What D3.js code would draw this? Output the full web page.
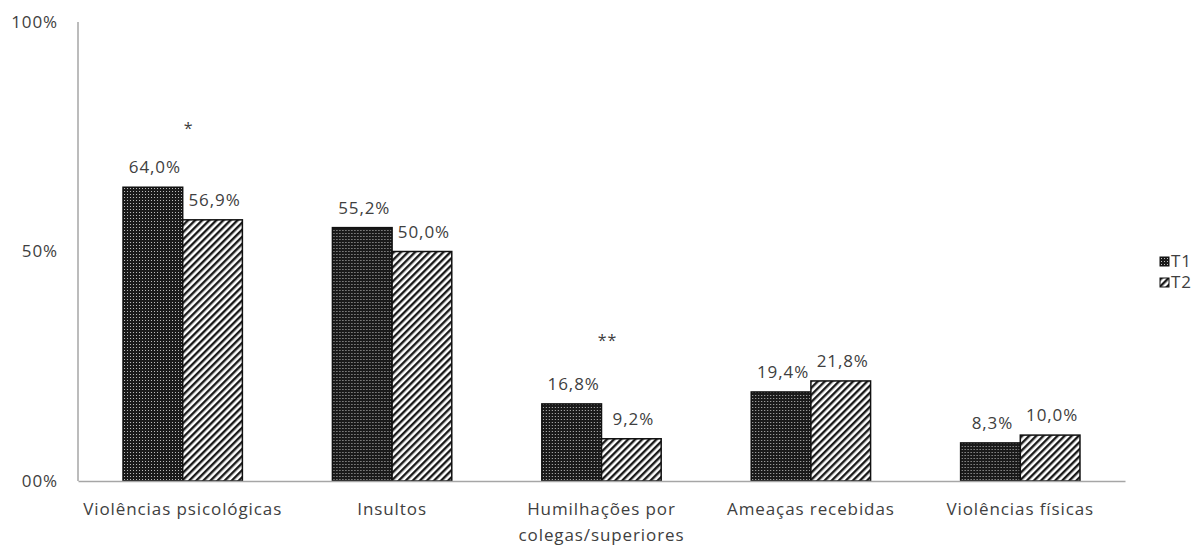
<!DOCTYPE html>
<html>
<head>
<meta charset="utf-8">
<script src="https://cdn.jsdelivr.net/npm/d3@7"></script>
<style>
  body { margin: 0; background: #fff; }
  text { font-family: "Open Sans", "DejaVu Sans", sans-serif; fill: #404040; letter-spacing: 0.9px; }
</style>
</head>
<body>
<svg id="chart" width="1200" height="545"></svg>
<script>
const categories = ["Violências psicológicas", "Insultos", "Humilhações por colegas/superiores", "Ameaças recebidas", "Violências físicas"];
const seriesNames = ["T1", "T2"];
const t1Values = [64.0, 55.2, 16.8, 19.4, 8.3];
const t2Values = [56.9, 50.0, 9.2, 21.8, 10.0];
const yTicks = [0, 50, 100];
const yTickLabels = ["00%", "50%", "100%"];
// significance markers: category, marker, height (in %)
const markers = [
  { cat: "Violências psicológicas", mark: "*", at: 75.5 },
  { cat: "Humilhações por colegas/superiores", mark: "**", at: 29.5 }
];

const margin = { left: 78, right: 75, top: 22, bottom: 64 };
const svg = d3.select("#chart");
const width = 1200 - margin.left - margin.right;
const height = 545 - margin.top - margin.bottom;
const fontSize = "17px";

const defs = svg.append("defs");
const dots = defs.append("pattern")
  .attr("id", "dots").attr("patternUnits", "userSpaceOnUse")
  .attr("width", 3).attr("height", 3);
dots.append("rect").attr("width", 3).attr("height", 3).attr("fill", "#1a1a1a");
dots.append("rect").attr("x", 1).attr("y", 1).attr("width", 1).attr("height", 1).attr("fill", "#bdbdbd");

const stripes = defs.append("pattern")
  .attr("id", "stripes").attr("patternUnits", "userSpaceOnUse")
  .attr("width", 5).attr("height", 5)
  .attr("patternTransform", "rotate(45)");
stripes.append("rect").attr("width", 5).attr("height", 5).attr("fill", "#ffffff");
stripes.append("rect").attr("width", 2.4).attr("height", 5).attr("fill", "#1a1a1a");

const fills = { T1: "url(#dots)", T2: "url(#stripes)" };

const g = svg.append("g").attr("transform", `translate(${margin.left},${margin.top})`);

const x = d3.scaleBand().domain(categories).range([0, width]).paddingInner(0.43).paddingOuter(0.215);
const x1 = d3.scaleBand().domain(seriesNames).range([0, x.bandwidth()]);
const y = d3.scaleLinear().domain([0, 100]).range([height, 0]);

const data = categories.map((c, i) => ({ cat: c, values: [
  { key: "T1", v: t1Values[i] }, { key: "T2", v: t2Values[i] }] }));

// axes lines
g.append("line").attr("x1", 0).attr("x2", 0).attr("y1", y(100)).attr("y2", y(0))
  .attr("stroke", "#a6a6a6").attr("stroke-width", 1.5);

const yAxis = g.append("g").call(d3.axisLeft(y).tickValues(yTicks).tickSize(0).tickPadding(20)
  .tickFormat((d, i) => yTickLabels[i]));
yAxis.select(".domain").remove();
yAxis.selectAll("text").style("font-size", fontSize).attr("fill", "#404040");

const groups = g.selectAll(".grp").data(data).join("g")
  .attr("class", "grp").attr("transform", d => `translate(${x(d.cat)},0)`);

groups.selectAll("rect").data(d => d.values).join("rect")
  .attr("x", d => x1(d.key)).attr("width", x1.bandwidth())
  .attr("y", d => y(d.v)).attr("height", d => y(0) - y(d.v))
  .attr("fill", d => fills[d.key]).attr("stroke", "#111").attr("stroke-width", 1.5);

groups.selectAll(".val").data(d => d.values).join("text")
  .attr("class", "val")
  .attr("x", d => x1(d.key) + x1.bandwidth() / 2 + 2)
  .attr("y", d => y(d.v) - 14)
  .attr("text-anchor", "middle").style("font-size", fontSize)
  .text(d => d.v.toFixed(1).replace(".", ",") + "%");

const xAxis = g.append("g").attr("transform", `translate(0,${height})`)
  .call(d3.axisBottom(x).tickSize(0).tickPadding(22));
xAxis.select(".domain").attr("stroke", "#a6a6a6").attr("stroke-width", 1.5);
xAxis.selectAll("text").style("font-size", fontSize).attr("fill", "#404040")
  .each(function (d) {
    if (d.startsWith("Humilhações")) {
      const t = d3.select(this).text(null);
      t.append("tspan").attr("x", 0).text("Humilhações por");
      t.append("tspan").attr("x", 0).attr("dy", "1.5em").text("colegas/superiores");
    }
  });
xAxis.raise();

g.selectAll(".mark").data(markers).join("text")
  .attr("class", "mark")
  .attr("x", d => x(d.cat) + x.bandwidth() / 2 + 6)
  .attr("y", d => y(d.at))
  .attr("text-anchor", "middle").style("font-size", "16px")
  .text(d => d.mark);

// legend
const legend = svg.append("g").attr("transform", "translate(1160,257)");
seriesNames.forEach((s, i) => {
  const lg = legend.append("g").attr("transform", `translate(0,${i * 21})`);
  lg.append("rect").attr("width", 9).attr("height", 9).attr("fill", fills[s])
    .attr("stroke", "#111").attr("stroke-width", 1);
  lg.append("text").attr("x", 11).attr("y", 10).style("font-size", fontSize).text(s);
});
</script>
</body>
</html>
